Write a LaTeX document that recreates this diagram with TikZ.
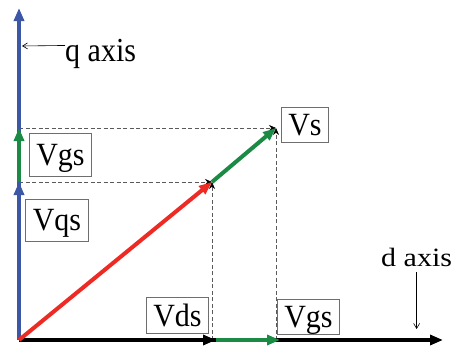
\documentclass[tikz,border=0pt]{standalone}
\usepackage{fontspec}
\setmainfont{Liberation Serif}
\usetikzlibrary{arrows.meta,positioning,calc}
\definecolor{axisBlue}{HTML}{3B57A6}
\definecolor{vecGreen}{HTML}{1B8A45}
\definecolor{vecRed}{HTML}{EE2A24}
\definecolor{boxGray}{HTML}{6E6E6E}
\definecolor{dashGray}{HTML}{5A5A5A}
\newcommand{\vstr}[2]{\scalebox{1}[#1]{#2}}

\begin{document}
\begin{tikzpicture}[x=1pt, y=-1pt,
  box/.style={rectangle, draw=boxGray, line width=0.8pt, inner xsep=7pt, text depth=0pt, minimum height=35pt, font=\fontsize{30}{34}\selectfont},
  tag/.style={inner sep=0pt, font=\fontsize{30}{34}\selectfont},
  vec/.style={-{Triangle[length=13pt, width=10pt]}, line width=4pt},
  proj/.style={-{Stealth[length=7pt, width=6pt, color=black]}, draw=dashGray, line width=0.6pt, dash pattern=on 4pt off 2.5pt},
  pointer/.style={-{Straight Barb[length=5pt, width=6pt]}, line width=0.6pt}
]
\useasboundingbox (0,0) rectangle (453,348);
\coordinate (O) at (19,340);
\coordinate (Qtop) at (19,8);
\coordinate (Vqs) at (19,182);
\coordinate (Vq) at (19,128);
\coordinate (Vr) at (212,182);
\coordinate (Vs) at (276,128);
\coordinate (Vds) at (216,340);
\coordinate (Vd) at (280,340);
\coordinate (Dend) at (443,340);
\coordinate (qtip) at (22,46);
\coordinate (dtip) at (416,329);
\draw[proj] (Vq) -- (Vs);
\draw[proj] (Vqs) -- (Vr);
\draw[proj] (Vr |- O) -- (Vr);
\draw[proj] (Vs |- O) -- (Vs);
\node[box, minimum height=43pt] (vgsq) at (60.5,154.5) {\vstr{1.08}{Vgs}};
\node[box, minimum height=42pt] (vqs) at (57,220) {\vstr{1.08}{Vqs}};
\node[box] (vs) at (305,124.5) {\vstr{1.08}{Vs}};
\node[box, minimum height=36pt] (vds) at (177.5,315) {\vstr{1.08}{Vds}};
\node[box] (vgsd) at (308.5,316.5) {\vstr{1.08}{Vgs}};
\node[tag, anchor=base west] (qlabel) at (65,61) {\vstr{1.12}{q axis}};
\node[tag, anchor=base west] (dlabel) at (381,266) {\vstr{0.88}{d axis}};
\draw[pointer] ([yshift=8pt]qlabel.west) -- (qtip);
\draw[pointer] ([yshift=-6pt]dlabel.south) -- (dlabel.south |- dtip);
\draw[vec, axisBlue] (O) -- (Qtop);
\draw[vec, axisBlue] (O) -- (Vqs);
\draw[vec, vecGreen] (Vqs) -- (Vq);
\draw[vec, black] (O) -- (Dend);
\draw[vec, black] (O) -- (Vds);
\draw[vec, vecGreen] (Vds) -- (Vd);
\draw[vec, vecRed] (O) -- (Vr);
\draw[vec, vecGreen] (Vr) -- (Vs);
\end{tikzpicture}
\end{document}
